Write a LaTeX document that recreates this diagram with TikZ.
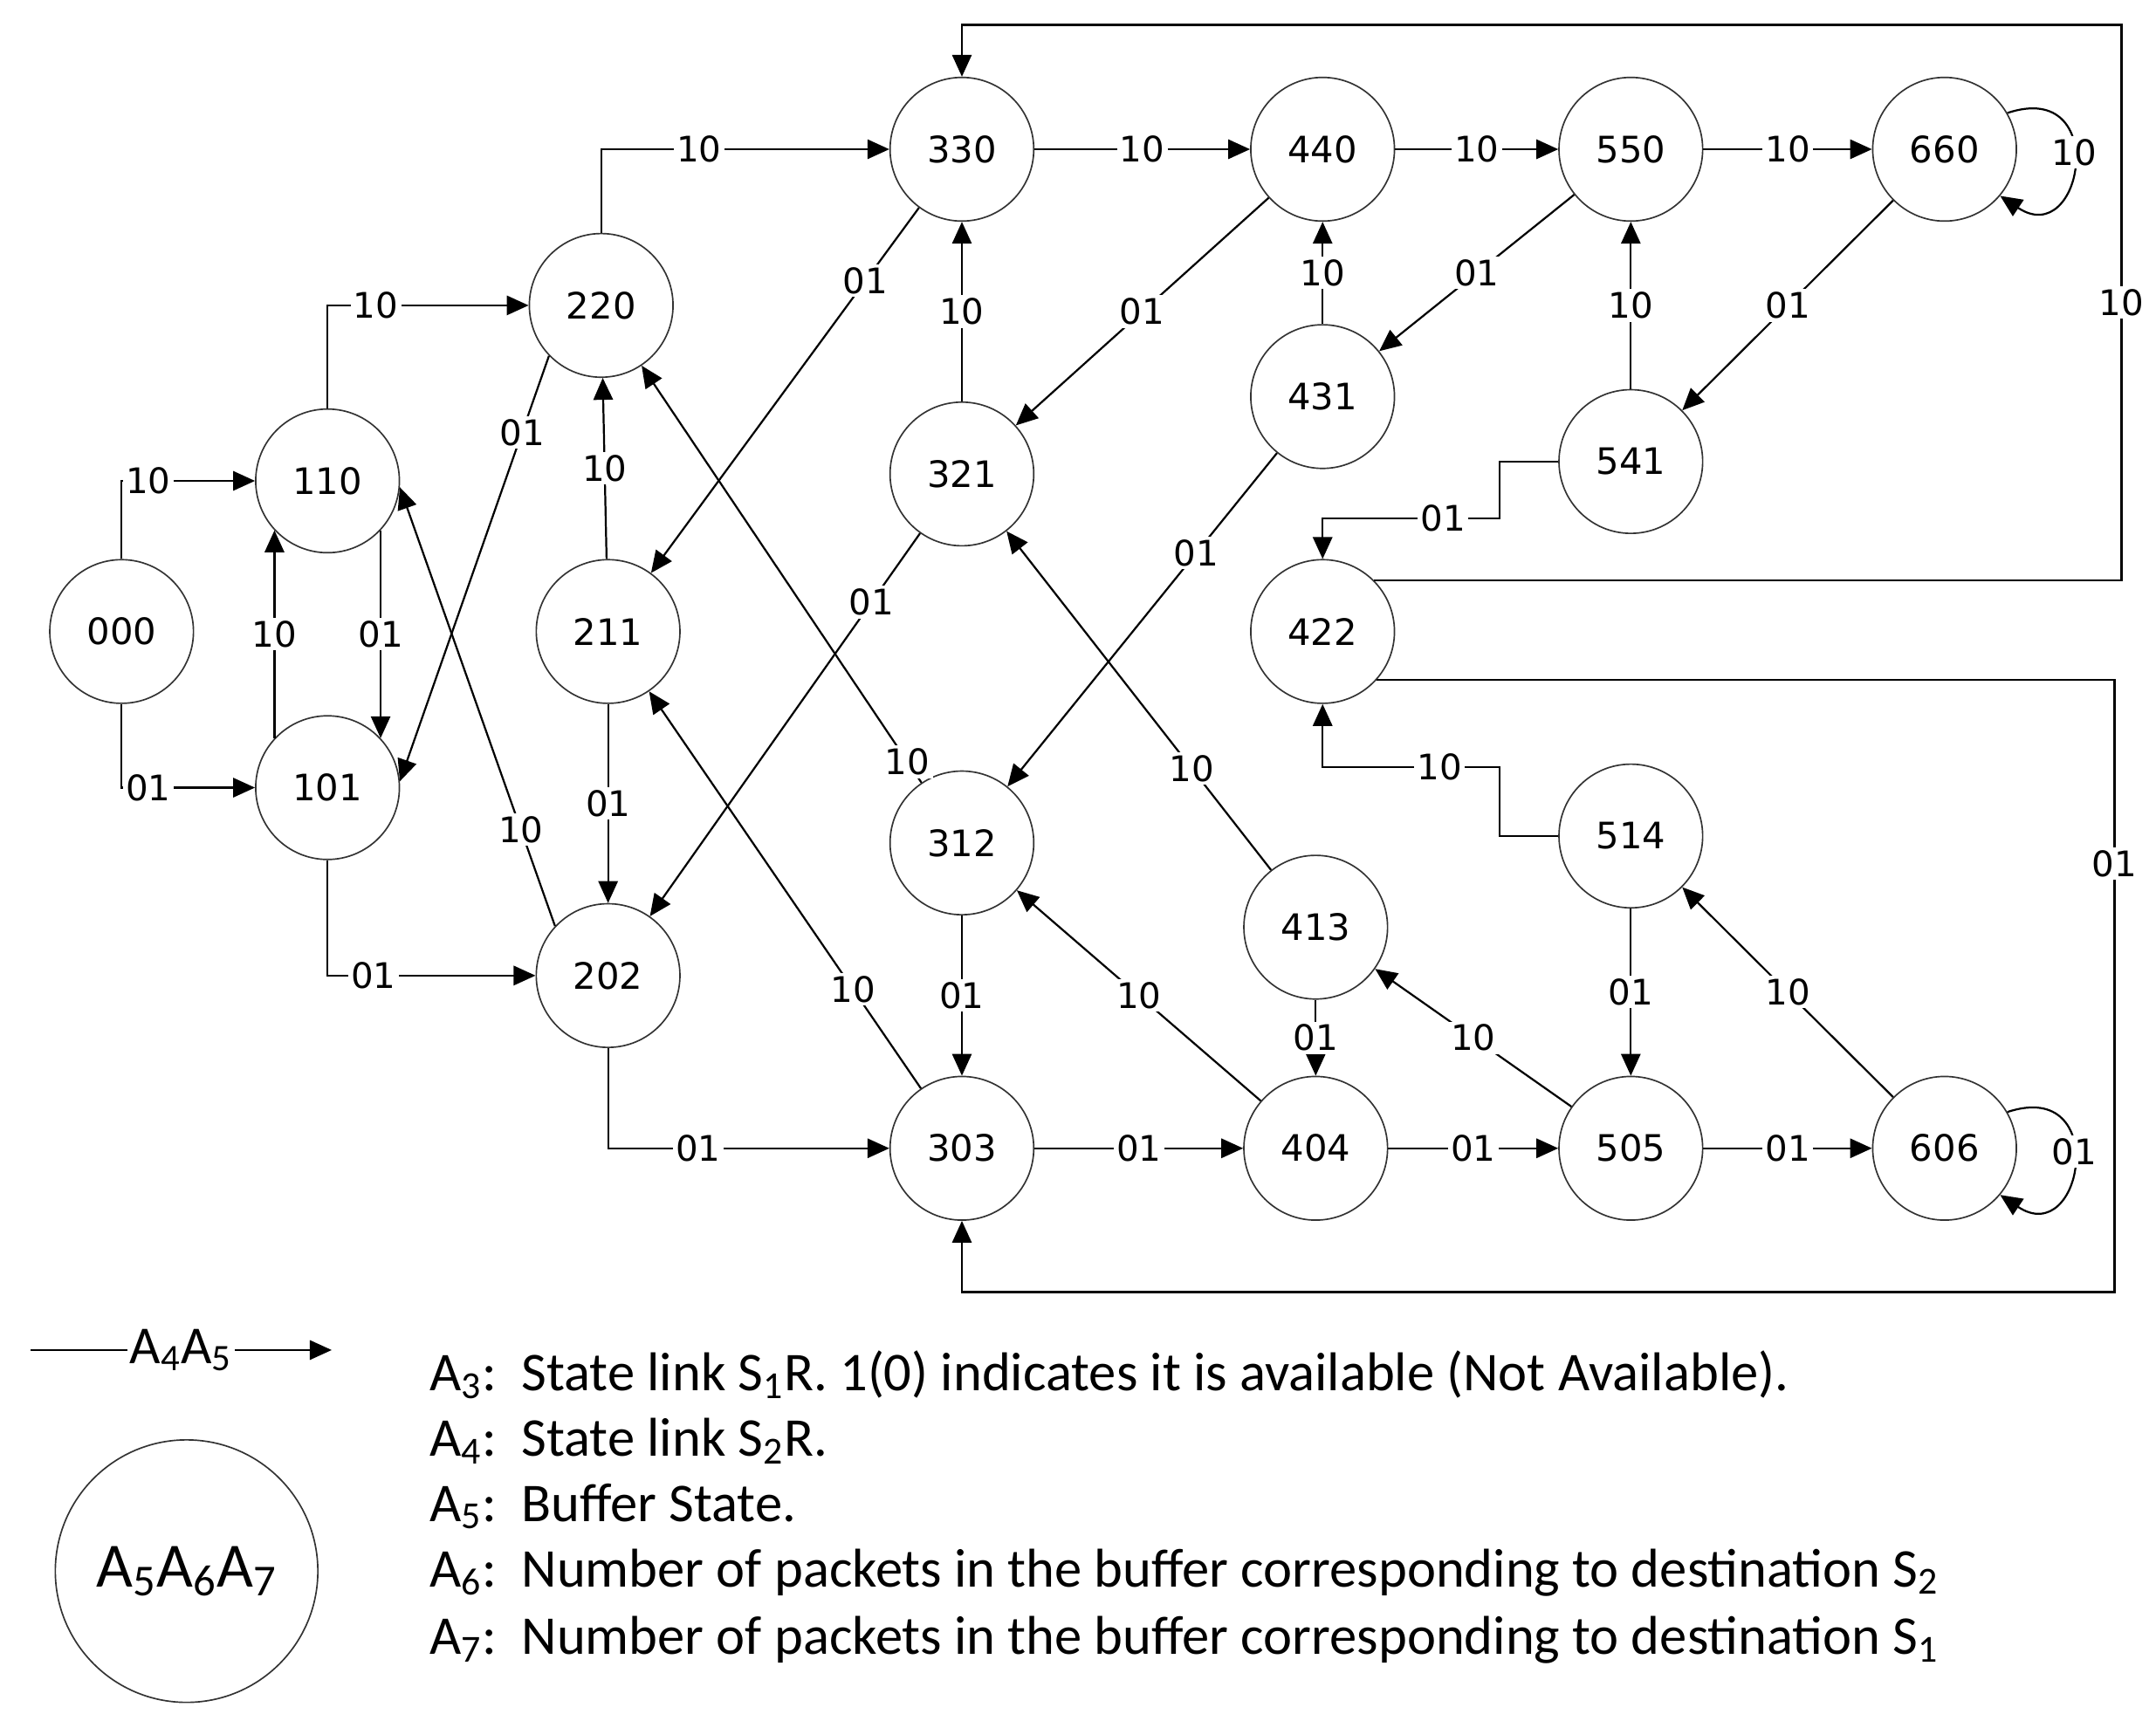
\documentclass[tikz,border=0pt]{standalone}
\usepackage{fontspec}
\setmainfont{DejaVu Sans}
\newfontfamily\leg{Carlito}
\usetikzlibrary{arrows.meta}
\begin{document}
\begin{tikzpicture}[x=0.02cm,y=0.02cm,
 st/.style={circle,draw=black!80,line width=0.6pt,minimum size=2.08cm,inner sep=0pt,font=\fontsize{15}{16}\selectfont},
 lab/.style={fill=white,inner sep=1.2pt,font=\fontsize{14.5}{15}\selectfont},
 e/.style={line width=0.8pt,-{Triangle[length=9pt,width=8pt]}},
 lt/.style={anchor=west,font=\leg\fontsize{22.5}{25}\selectfont}]
\useasboundingbox (0,0) rectangle (1560,-1245);
\node[st] (000) at (88,-457) {000};
\node[st] (110) at (237,-348) {110};
\node[st] (101) at (237,-570) {101};
\node[st] (220) at (435,-221) {220};
\node[st] (211) at (440,-457) {211};
\node[st] (202) at (440,-706) {202};
\node[st] (330) at (696,-108) {330};
\node[st] (321) at (696,-343) {321};
\node[st] (312) at (696,-610) {312};
\node[st] (303) at (696,-831) {303};
\node[st] (440) at (957,-108) {440};
\node[st] (431) at (957,-287) {431};
\node[st] (422) at (957,-457) {422};
\node[st] (413) at (952,-671) {413};
\node[st] (404) at (952,-831) {404};
\node[st] (550) at (1180,-108) {550};
\node[st] (541) at (1180,-334) {541};
\node[st] (514) at (1180,-605) {514};
\node[st] (505) at (1180,-831) {505};
\node[st] (660) at (1407,-108) {660};
\node[st] (606) at (1407,-831) {606};
\coordinate (c1) at (1535,-18);
\coordinate (c2) at (1530,-935);
\coordinate (k1) at (1085,-375);
\coordinate (k2) at (1085,-555);
% left part
\draw[e] (000.north) |- node[lab,pos=0.6]{10} (110.west);
\draw[e] (000.south) |- node[lab,pos=0.6]{01} (101.west);
\draw[e] (110.north) |- node[lab,pos=0.62]{10} (220.west);
\draw[e] (101.south) |- node[lab,pos=0.61]{01} (202.west);
\draw[e] (110.-43) -- node[lab]{01} (101.43);
\draw[e] (101.137) -- node[lab]{10} (110.-137);
\draw[e] (220.north) |- node[lab,pos=0.67]{10} (330.west);
\draw[e] (202.south) |- node[lab,pos=0.66]{01} (303.west);
\draw[e] (211) -- node[lab]{10} (220);
\draw[e] (211) -- node[lab]{01} (202);
\draw[e] (220.-136) -- node[lab,pos=0.18]{01} (101.5);
\draw[e] (202.137) -- node[lab,pos=0.22]{10} (110.-5);
\draw[e] (330) -- node[lab,pos=0.2]{01} (211);
\draw[e] (312) -- node[lab,pos=0.05]{10} (220);
\draw[e] (321) -- node[lab,pos=0.18]{01} (202);
\draw[e] (303) -- node[lab,pos=0.25]{10} (211);
% middle
\draw[e] (321) -- node[lab]{10} (330);
\draw[e] (312) -- node[lab]{01} (303);
\draw[e] (330) -- node[lab]{10} (440);
\draw[e] (440) -- node[lab]{10} (550);
\draw[e] (550) -- node[lab]{10} (660);
\draw[e] (303) -- node[lab]{01} (404);
\draw[e] (404) -- node[lab]{01} (505);
\draw[e] (505) -- node[lab]{01} (606);
\draw[e] (440) -- node[lab]{01} (321);
\draw[e] (431) -- node[lab]{10} (440);
\draw[e] (550) -- node[lab]{01} (431);
\draw[e] (541) -- node[lab]{10} (550);
\draw[e] (660) -- node[lab]{01} (541);
\draw[e] (431) -- node[lab,pos=0.3]{01} (312);
\draw[e] (413) -- node[lab,pos=0.3]{10} (321);
\draw[e] (404) -- node[lab]{10} (312);
\draw[e] (413) -- node[lab]{01} (404);
\draw[e] (505) -- node[lab]{10} (413);
\draw[e] (514) -- node[lab]{01} (505);
\draw[e] (606) -- node[lab]{10} (514);
\draw[e] (541.west) -| (k1) -| node[lab,pos=0.16]{01} (422.north);
\draw[e] (514.west) -| (k2) -| node[lab,pos=0.17]{10} (422.south);
\draw[e] (422.45) -| node[lab,pos=0.75]{10} (c1) -| (330.north);
\draw[e] (422.-42) -| node[lab,pos=0.65]{01} (c2) -| (303.south);
\draw[e] (660.30) .. controls +(75,25) and +(60,-40) .. node[lab,pos=0.45]{10} (660.-40);
\draw[e] (606.30) .. controls +(75,25) and +(60,-40) .. node[lab,pos=0.45]{01} (606.-40);
% legend
\coordinate (la) at (22,-977);
\coordinate (lb) at (240,-977);
\draw[e] (la) -- node[lab,font=\leg\fontsize{22}{24}\selectfont]{A\textsubscript{4}A\textsubscript{5}} (lb);
\node[circle,draw=black!80,line width=0.6pt,minimum size=3.8cm,font=\leg\fontsize{26}{28}\selectfont] (leg) at (135,-1137) {A\textsubscript{5}A\textsubscript{6}A\textsubscript{7}};
\node[lt] (t3) at (305,-995) {A\textsubscript{3}:\ \ State link S\textsubscript{1}R. 1(0) indicates it is available (Not Available).};
\node[lt] (t4) at (305,-1043) {A\textsubscript{4}:\ \ State link S\textsubscript{2}R.};
\node[lt] (t5) at (305,-1090) {A\textsubscript{5}:\ \ Buffer State.};
\node[lt] (t6) at (305,-1138) {A\textsubscript{6}:\ \ Number of packets in the buffer corresponding to destination S\textsubscript{2}};
\node[lt] (t7) at (305,-1187) {A\textsubscript{7}:\ \ Number of packets in the buffer corresponding to destination S\textsubscript{1}};
\end{tikzpicture}
\end{document}
